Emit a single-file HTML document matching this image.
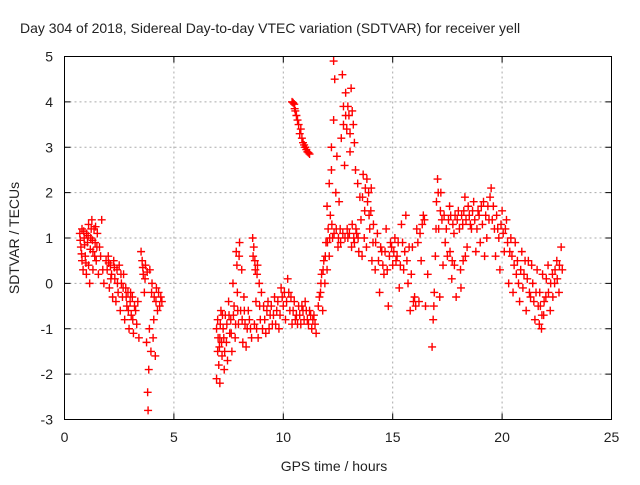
<!DOCTYPE html>
<html><head><meta charset="utf-8"><style>
body{margin:0;background:#fff}
svg text{font-family:"Liberation Sans",sans-serif;fill:#222}
</style></head><body>
<svg id="chart" width="640" height="480" xmlns="http://www.w3.org/2000/svg">
<text x="20" y="33" font-size="14">Day 304 of 2018, Sidereal Day-to-day VTEC variation (SDTVAR) for receiver yell</text>
<g id="grid"></g>
<g id="marks"></g>
<rect x="64.5" y="56.5" width="547" height="363" fill="none" stroke="#000"/>
<g id="ticks"></g>
<text x="334" y="471" font-size="14" text-anchor="middle">GPS time / hours</text>
<text transform="translate(19,238) rotate(-90)" font-size="14" text-anchor="middle">SDTVAR / TECUs</text>
</svg>
<script>
const xTicks=[0,5,10,15,20,25];
const yTicks=[-3,-2,-1,0,1,2,3,4,5];
const seg1=[[0.7,1.1],[0.75,0.8],[0.8,0.5],[0.8,1.2],[0.85,0.3],[0.9,1.0],[0.95,0.6],[1.0,1.1],[1.0,0.2],[1.05,0.9],[1.1,1.3],[1.1,0.4],[1.15,0.0],[1.2,1.0],[1.25,1.4],[1.3,0.7],[1.3,0.3],[1.35,1.2],[1.4,0.9],[1.45,0.5],[1.5,1.1],[1.55,0.2],[1.6,0.8],[1.65,0.6],[1.7,1.4],[1.75,0.3],[1.8,0.0],[0.72,0.95],[0.78,0.65],[0.88,1.15],[0.92,0.85],[0.98,0.45],[1.08,1.05],[1.18,0.75],[1.22,1.2],[1.28,0.95],[1.38,0.6],[1.42,1.25],[1.48,0.8]];
const seg2=[[1.9,0.5],[1.95,0.3],[2.0,0.6],[2.05,-0.1],[2.1,0.4],[2.15,0.2],[2.2,-0.3],[2.25,0.5],[2.3,0.1],[2.35,-0.4],[2.4,0.3],[2.45,-0.2],[2.5,0.4],[2.55,-0.6],[2.6,0.0],[2.65,-0.3],[2.7,0.2],[2.75,-0.8],[2.8,-0.1],[2.85,-0.5],[2.9,-0.2],[2.95,-1.0],[3.0,-0.4],[3.05,-0.7],[3.1,-0.3],[3.15,-1.1],[3.2,-0.5],[3.3,-0.9],[3.35,-0.4],[3.4,-1.2],[2.02,0.45],[2.12,0.1],[2.28,0.35],[2.42,0.0],[2.58,0.2],[2.68,-0.1],[2.82,-0.3],[2.92,-0.6],[3.02,-0.2],[3.12,-0.8],[3.25,-0.6]];
const seg3=[[3.5,0.7],[3.55,0.5],[3.6,0.2],[3.65,-0.2],[3.7,0.4],[3.75,-1.3],[3.8,-2.4],[3.82,-2.8],[3.85,-1.9],[3.9,0.3],[3.95,-1.5],[4.0,0.0],[4.05,-1.2],[4.1,-0.3],[4.15,-1.6],[4.2,-0.1],[4.25,-0.6],[4.3,-0.2],[4.35,-0.5],[4.4,-0.3],[4.45,-0.4],[3.58,0.35],[3.68,0.1],[3.78,0.25],[3.88,-1.0],[3.98,-0.2],[4.08,-0.8],[4.18,-0.4]];
const seg4=[[6.95,-1.0],[6.95,-2.1],[7.0,-1.5],[7.0,-0.8],[7.05,-1.8],[7.1,-1.2],[7.1,-2.2],[7.15,-0.6],[7.2,-1.6],[7.25,-1.0],[7.3,-1.9],[7.35,-0.7],[7.4,-1.3],[7.45,-1.7],[7.5,-0.4],[7.55,-1.1],[7.6,-0.8],[7.65,-1.5],[7.7,0.0],[7.75,-0.5],[7.8,-1.2],[7.85,0.7],[7.9,-0.2],[7.95,-0.9],[8.0,0.9],[8.05,-0.6],[8.1,0.3],[8.15,-1.3],[8.2,-0.3],[8.25,-0.9],[8.3,-1.4],[8.4,-0.6],[8.5,-1.0],[8.6,1.0],[8.65,0.8],[8.7,0.5],[8.75,-0.4],[8.8,0.2],[8.85,-1.2],[8.9,0.0],[8.95,-0.8],[9.0,-0.2],[9.1,-0.5],[9.2,-1.1],[9.3,-0.4],[9.4,-0.7],[9.5,-0.9],[9.6,-0.3],[9.7,-0.6],[9.8,-1.0],[9.9,-0.1],[10.0,-0.5],[10.1,-0.8],[10.2,0.1],[10.3,-0.6],[10.4,-0.9],[10.5,-0.4],[10.6,-0.7],[10.7,-0.5],[10.8,-0.9],[10.9,-0.6],[11.0,-0.4],[11.1,-0.8],[11.2,-0.6],[11.3,-1.0],[11.4,-0.7],[11.5,-1.1],[7.02,-1.2],[7.08,-1.4],[7.12,-0.9],[7.18,-1.3],[7.22,-0.7],[7.28,-1.2],[7.32,-1.5],[7.42,-0.9],[7.52,-0.7],[7.62,-1.1],[7.72,-0.7],[7.82,-0.9],[7.92,-0.6],[8.12,-0.8],[8.22,-0.6],[8.35,-1.0],[8.45,-0.8],[8.55,-1.2],[8.68,-0.9],[8.78,-1.0],[8.92,-0.5],[9.05,-1.0],[9.15,-0.8],[9.25,-0.6],[9.35,-1.0],[9.45,-0.5],[9.55,-0.7],[9.65,-0.9],[9.75,-0.4],[9.85,-0.7],[9.95,-0.3],[10.05,-0.2],[10.15,-0.4],[10.25,-0.2],[10.35,-0.3],[10.45,-0.6],[10.55,-0.8],[10.65,-0.9],[10.75,-0.7],[10.85,-0.5],[10.95,-0.8],[11.05,-0.6],[11.15,-0.9],[11.25,-0.7],[11.35,-0.8],[11.45,-0.9],[7.88,0.4],[7.98,0.6],[8.62,0.6],[8.72,0.3],[8.82,0.4]];
const seg5=[[10.4,4.0],[10.5,3.95],[10.55,3.8],[10.6,3.7],[10.7,3.5],[10.75,3.3],[10.8,3.4],[10.9,3.1],[11.0,3.0],[11.1,2.9],[11.2,2.85],[10.45,3.98],[10.52,3.85],[10.65,3.6],[10.85,3.2],[10.95,3.05],[11.05,2.95],[11.15,2.88]];
const seg6=[[11.6,-0.5],[11.7,-0.2],[11.75,0.2],[11.8,-0.6],[11.85,0.5],[11.9,0.0],[11.95,0.9],[12.0,0.3],[12.0,1.7],[12.05,1.2],[12.1,0.6],[12.1,2.2],[12.15,1.5],[12.2,3.0],[12.2,2.5],[12.25,1.0],[12.3,4.9],[12.3,3.6],[12.35,4.5],[12.4,2.0],[12.45,2.8],[12.5,0.8],[12.55,1.8],[12.6,1.2],[12.65,3.2],[12.7,4.6],[12.75,3.9],[12.8,2.6],[12.85,4.2],[12.9,3.4],[12.95,1.0],[13.0,3.7],[13.05,2.9],[13.1,4.3],[13.15,1.3],[13.2,3.5],[13.25,0.9],[13.3,2.5],[13.35,1.1],[13.4,2.2],[13.45,0.7],[13.5,1.9],[13.55,1.4],[13.6,0.6],[13.65,2.4],[13.7,1.0],[13.75,2.1],[13.8,0.8],[13.85,1.8],[13.9,2.0],[13.95,1.2],[14.0,1.6],[14.05,0.5],[14.1,0.9],[14.2,0.3],[14.3,1.1],[14.4,-0.2],[14.5,0.7],[14.6,0.2],[14.7,1.2],[14.8,-0.5],[14.9,0.9],[15.0,0.4],[15.1,1.0],[15.2,0.6],[15.3,-0.1],[15.4,1.3],[15.5,0.3],[15.6,1.5],[15.7,0.0],[15.8,-0.6],[15.9,0.8],[16.0,-0.3],[16.1,1.2],[16.2,-0.4],[16.3,0.5],[16.4,1.5],[16.5,-0.5],[16.6,0.2],[11.65,-0.3],[11.72,0.0],[11.82,0.3],[11.92,0.6],[12.02,0.9],[12.12,1.0],[12.22,1.3],[12.32,1.1],[12.42,1.2],[12.52,1.0],[12.62,0.9],[12.72,1.1],[12.82,1.0],[12.92,1.2],[13.02,1.1],[13.12,0.8],[13.22,1.0],[13.32,1.2],[13.42,1.0],[12.75,3.5],[12.85,3.7],[12.95,3.9],[13.05,3.3],[13.15,3.8],[13.25,3.1],[13.62,1.9],[13.72,1.6],[13.82,2.3],[13.92,1.5],[14.02,2.1],[14.12,1.3],[14.22,0.9],[14.35,0.5],[14.45,0.8],[14.55,0.4],[14.65,0.7],[14.75,0.3],[14.85,0.6],[14.95,0.8],[15.05,0.7],[15.15,0.5],[15.25,0.9],[15.35,0.4],[15.45,0.9],[15.55,0.7],[15.65,0.5],[15.75,0.8],[15.85,0.2],[15.95,-0.4],[16.05,-0.5],[16.15,0.9],[16.25,1.1],[16.35,1.3],[16.45,1.4]];
const seg7=[[16.8,-1.4],[16.85,-0.8],[16.9,-0.2],[16.95,0.6],[17.0,1.8],[17.05,2.3],[17.1,1.2],[17.15,-0.3],[17.2,2.0],[17.3,0.4],[17.35,1.5],[17.4,0.9],[17.5,0.6],[17.6,1.7],[17.7,0.1],[17.8,1.1],[17.9,-0.3],[18.0,1.6],[18.1,0.3],[18.2,1.3],[18.3,1.9],[18.4,0.8],[18.5,1.5],[18.6,1.2],[18.7,1.8],[18.8,0.7],[18.9,1.6],[19.0,0.9],[19.1,1.3],[19.2,0.6],[19.3,1.0],[19.4,1.4],[19.5,2.1],[19.6,1.7],[19.7,0.6],[19.8,1.2],[19.9,0.3],[20.0,1.6],[20.1,0.7],[20.2,1.4],[20.3,0.0],[20.4,1.0],[20.5,-0.2],[20.6,0.9],[20.7,0.5],[20.8,-0.4],[20.9,0.7],[21.0,0.2],[21.1,-0.6],[21.2,0.5],[21.3,-0.3],[21.4,0.0],[21.5,-0.8],[21.6,0.3],[21.7,-0.9],[21.75,-0.5],[21.8,-1.0],[21.85,0.2],[21.9,-0.7],[22.0,-0.3],[22.1,0.4],[22.2,-0.6],[22.3,0.2],[22.4,0.0],[22.5,0.5],[22.6,-0.2],[22.7,0.8],[22.75,0.3],[16.88,-0.5],[16.98,1.2],[17.08,2.0],[17.18,1.6],[17.25,1.4],[17.45,1.2],[17.55,1.4],[17.65,1.5],[17.75,1.3],[17.85,1.5],[17.95,1.4],[18.05,1.2],[18.15,1.5],[18.25,1.6],[18.35,1.4],[18.45,1.7],[18.55,1.3],[18.65,1.6],[18.75,1.4],[18.85,1.2],[18.95,1.5],[19.05,1.7],[19.15,1.8],[19.25,1.5],[19.35,1.7],[19.45,1.9],[19.55,1.4],[19.65,1.2],[19.75,1.5],[19.85,1.0],[19.95,1.3],[20.05,1.1],[20.15,1.2],[20.25,0.9],[20.35,0.7],[20.45,0.6],[20.55,0.4],[20.65,0.2],[20.75,0.0],[20.85,0.3],[20.95,-0.1],[21.05,0.5],[21.15,0.1],[21.25,-0.2],[21.35,0.4],[21.45,-0.4],[21.55,-0.2],[21.65,-0.5],[21.72,-0.2],[21.82,-0.7],[21.92,-0.4],[22.02,0.1],[22.12,-0.2],[22.22,0.0],[22.32,-0.3],[22.42,0.3],[22.52,0.1],[22.62,0.4],[17.62,0.7],[17.72,0.5],[17.82,0.4],[18.12,-0.1],[18.22,0.5],[18.32,0.6]];
const segments=[seg1,seg2,seg3,seg4,seg5,seg6,seg7];

const X0=64.5,X1=611.5,Y0=419.5,Y1=56.5;
const xs=v=>X0+(v-0)/(25-0)*(X1-X0);
const ys=v=>Y0-(v-(-3))/(5-(-3))*(Y0-Y1);
const NS='http://www.w3.org/2000/svg';
const grid=document.getElementById('grid'),ticks=document.getElementById('ticks'),marks=document.getElementById('marks');
function mk(tag,attrs,parent){const e=document.createElementNS(NS,tag);for(const k in attrs)e.setAttribute(k,attrs[k]);parent.appendChild(e);return e;}
xTicks.forEach(t=>{const x=xs(t);
 if(t>0&&t<25){const g=mk('line',{x1:x,x2:x,y1:Y1,y2:Y0,stroke:'#aaa','stroke-dasharray':'2,3'},grid);
 
 }
 mk('line',{x1:x,x2:x,y1:Y0,y2:Y0-6,stroke:'#000'},ticks);mk('line',{x1:x,x2:x,y1:Y1,y2:Y1+6,stroke:'#000'},ticks);
 const l=mk('text',{x:x,y:442,'font-size':'14','text-anchor':'middle'},ticks);l.textContent=t;
 
 });
yTicks.forEach(t=>{const y=ys(t);
 if(t>-3&&t<5){const g=mk('line',{x1:X0,x2:X1,y1:y,y2:y,stroke:'#aaa','stroke-dasharray':'2,3'},grid);
 
 }
 mk('line',{x1:X0,x2:X0+6,y1:y,y2:y,stroke:'#000'},ticks);mk('line',{x1:X1,x2:X1-6,y1:y,y2:y,stroke:'#000'},ticks);
 const l=mk('text',{x:53,y:y+5,'font-size':'14','text-anchor':'end'},ticks);l.textContent=t;
 
 });
let d='';
segments.forEach(s=>s.forEach(([t,v])=>{const x=xs(t),y=ys(v);d+=`M${x-4} ${y}h8M${x} ${y-4}v8`;}));
const p=mk('path',{d:d,stroke:'#f00','stroke-width':'1.4',fill:'none'},marks);


</script>
</body></html>
